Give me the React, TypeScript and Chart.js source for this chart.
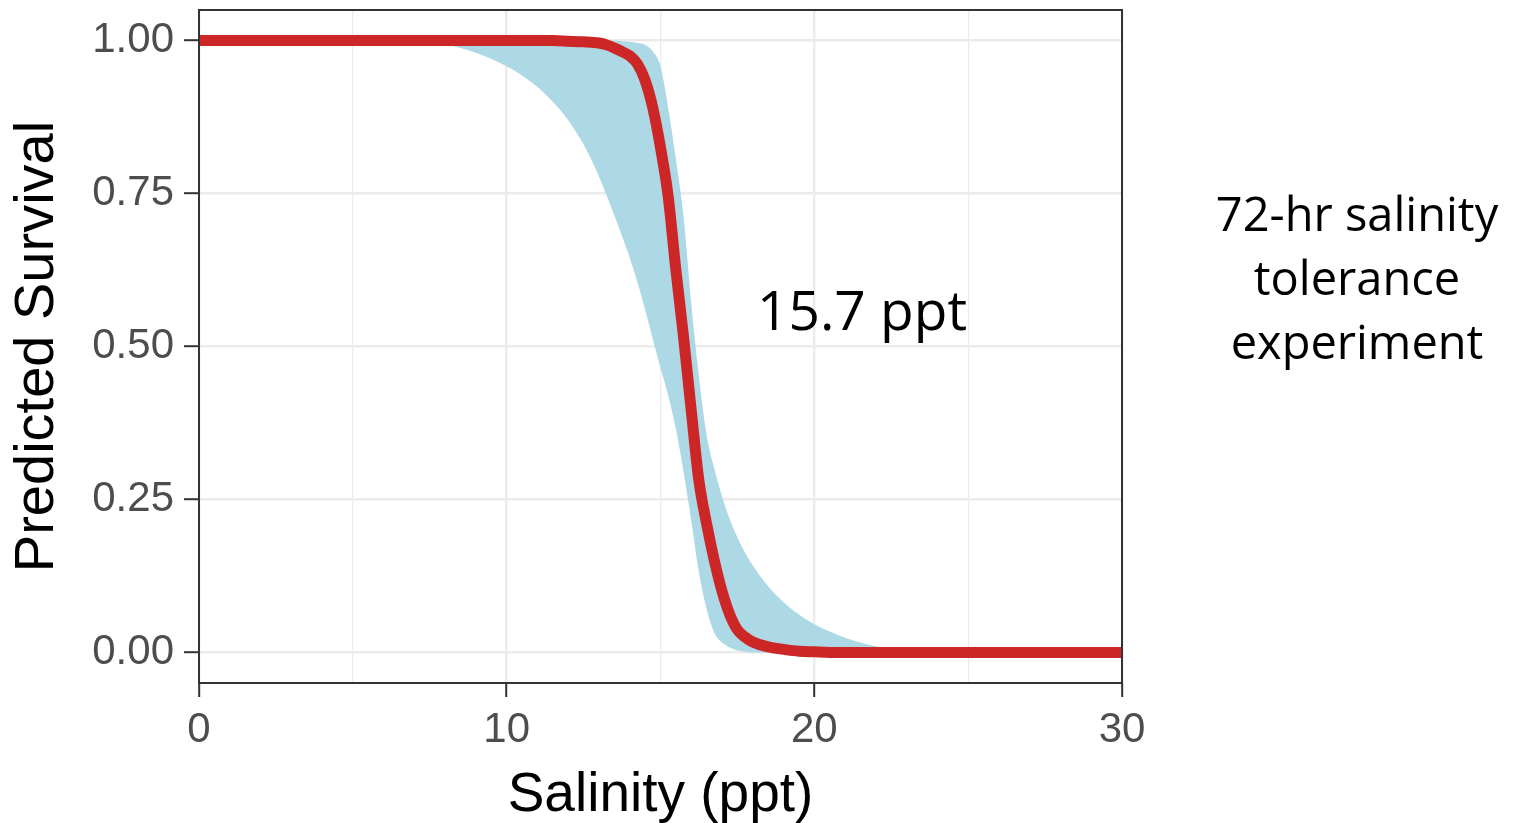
import React, { useEffect, useRef } from "react";
import { Chart, registerables } from "chart.js";

Chart.register(...registerables);

// Salinity grid (ppt)
const salinity = [0, 2, 4, 6, 7, 7.5, 8, 9, 10, 10.5, 11, 11.5, 12, 12.5, 13, 13.25, 13.5, 13.75, 14, 14.25, 14.5, 14.75, 15, 15.25, 15.5, 15.75, 16, 16.25, 16.5, 16.75, 17, 17.25, 17.5, 17.75, 18, 18.5, 19, 19.5, 20, 20.5, 21, 21.5, 22, 22.5, 23, 24, 26, 28, 30];

// Predicted survival (fitted curve)
const survivalFit = [1, 1, 1, 1, 1, 1, 1, 1, 1, 1, 1, 1, 0.999, 0.998, 0.996, 0.993, 0.988, 0.982, 0.975, 0.962, 0.935, 0.89, 0.825, 0.745, 0.625, 0.515, 0.395, 0.28, 0.21, 0.15, 0.1, 0.062, 0.037, 0.025, 0.017, 0.009, 0.005, 0.002, 0.001, 0, 0, 0, 0, 0, 0, 0, 0, 0, 0];

// Confidence band
const survivalLower = [1, 1, 1, 1, 1, 0.998, 0.994, 0.98, 0.958, 0.943, 0.924, 0.9, 0.87, 0.83, 0.778, 0.747, 0.714, 0.68, 0.645, 0.605, 0.56, 0.512, 0.465, 0.42, 0.365, 0.295, 0.215, 0.13, 0.07, 0.032, 0.016, 0.008, 0.003, 0.001, 0, 0, 0, 0, 0, 0, 0, 0, 0, 0, 0, 0, 0, 0, 0];
const survivalUpper = [1, 1, 1, 1, 1, 1, 1, 1, 1, 1, 1, 1, 1, 1, 1, 1, 1, 0.999, 0.998, 0.996, 0.993, 0.982, 0.958, 0.89, 0.806, 0.712, 0.57, 0.45, 0.355, 0.3, 0.255, 0.218, 0.188, 0.163, 0.142, 0.108, 0.082, 0.062, 0.046, 0.034, 0.024, 0.016, 0.01, 0.005, 0.002, 0, 0, 0, 0];

const xTicks = [0, 5, 10, 15, 20, 25, 30];
const yTicks = [0, 0.25, 0.5, 0.75, 1];

const annotationText = "15.7 ppt";
const annotationX = 21.55;
const annotationY = 0.552;
const sideText = ["72-hr salinity", "tolerance", "experiment"];

const AXIS_FONT = "'Liberation Sans', Arial, Helvetica, sans-serif";
const NOTE_FONT = "'Open Sans', 'Noto Sans', sans-serif";

function pts(ys: number[]) {
  return salinity.map((x, i) => ({ x, y: ys[i] }));
}

export default function App() {
  const ref = useRef<HTMLCanvasElement | null>(null);

  useEffect(() => {
    document.body.style.margin = "0";
    const canvas = ref.current;
    if (!canvas) return;

    const overlay = {
      id: "overlay",
      afterDatasetsDraw(chart: any) {
        const { ctx, chartArea } = chart;
        ctx.save();
        ctx.strokeStyle = "#333333";
        ctx.lineWidth = 2;
        ctx.strokeRect(chartArea.left, chartArea.top, chartArea.right - chartArea.left, chartArea.bottom - chartArea.top);
        ctx.restore();
      },
      afterDraw(chart: any) {
        const { ctx, scales } = chart;
        ctx.save();
        ctx.fillStyle = "#000000";
        ctx.textAlign = "center";
        ctx.textBaseline = "middle";
        ctx.font = `55px ${NOTE_FONT}`;
        ctx.fillText(annotationText, scales.x.getPixelForValue(annotationX), scales.y.getPixelForValue(annotationY));
        ctx.font = `47px ${NOTE_FONT}`;
        sideText.forEach((t, i) => {
          ctx.fillText(t, 1357, 218 + i * 64);
        });
        ctx.restore();
      },
    };

    const chart = new Chart(canvas, {
      type: "line",
      data: {
        datasets: [
          {
            label: "fit",
            data: pts(survivalFit),
            borderColor: "#CD2626",
            borderWidth: 11,
            pointRadius: 0,
            fill: false,
            cubicInterpolationMode: "monotone",
            borderCapStyle: "butt",
            borderJoinStyle: "round",
            order: 0,
          },
          {
            label: "upper",
            data: pts(survivalUpper),
            borderColor: "rgba(0,0,0,0)",
            borderWidth: 0,
            backgroundColor: "#ADD8E6",
            pointRadius: 0,
            fill: 2,
            cubicInterpolationMode: "monotone",
            order: 1,
          },
          {
            label: "lower",
            data: pts(survivalLower),
            borderColor: "rgba(0,0,0,0)",
            borderWidth: 0,
            pointRadius: 0,
            fill: false,
            cubicInterpolationMode: "monotone",
            order: 2,
          },
        ],
      },
      options: {
        animation: false,
        responsive: false,
        maintainAspectRatio: false,
        layout: { padding: { top: 10, right: 395, left: 0, bottom: 0 } },
        plugins: { legend: { display: false }, tooltip: { enabled: false } },
        scales: {
          x: {
            type: "linear",
            min: 0,
            max: 30,
            afterBuildTicks: (s: any) => {
              s.ticks = xTicks.map((v) => ({ value: v }));
            },
            afterFit: (s: any) => {
              s.height = 140;
              s.paddingLeft = 0;
              s.paddingRight = 0;
            },
            border: { display: false },
            grid: {
              color: "#EBEBEB",
              lineWidth: (c: any) => (c.tick && c.tick.value % 10 === 0 ? 2.4 : 1.3),
              tickColor: (c: any) => (c.tick && c.tick.value % 10 === 0 ? "#333333" : "rgba(0,0,0,0)"),
              tickWidth: 2,
              tickLength: 14,
              drawTicks: true,
            },
            ticks: {
              color: "#4D4D4D",
              font: { family: AXIS_FONT, size: 42 },
              padding: 8,
              maxRotation: 0,
              autoSkip: false,
              callback: (v: any) => (Number(v) % 10 === 0 ? String(v) : ""),
            },
            title: {
              display: true,
              text: "Salinity (ppt)",
              color: "#000000",
              font: { family: AXIS_FONT, size: 55, lineHeight: 1 },
              padding: { top: 0, bottom: 0 },
            },
          },
          y: {
            type: "linear",
            min: -0.05,
            max: 1.05,
            afterBuildTicks: (s: any) => {
              s.ticks = yTicks.map((v) => ({ value: v }));
            },
            afterFit: (s: any) => {
              s.width = 199;
              s.paddingTop = 0;
              s.paddingBottom = 0;
            },
            border: { display: false },
            grid: {
              color: "#EBEBEB",
              lineWidth: 2.4,
              tickColor: "#333333",
              tickWidth: 2,
              tickLength: 15,
            },
            ticks: {
              color: "#4D4D4D",
              font: { family: AXIS_FONT, size: 42 },
              padding: 10,
              callback: (v: any) => Number(v).toFixed(2),
            },
            title: {
              display: true,
              text: "Predicted Survival",
              color: "#000000",
              font: { family: AXIS_FONT, size: 56, lineHeight: 1 },
              padding: { top: 10, bottom: 0 },
            },
          },
        },
      },
      plugins: [overlay],
    } as any);

    return () => chart.destroy();
  }, []);

  return (
    <div style={{ position: "fixed", left: 0, top: 0, width: 1517, height: 823, background: "#ffffff" }}>
      <canvas ref={ref} width={1517} height={823} style={{ width: 1517, height: 823, display: "block" }} />
    </div>
  );
}
